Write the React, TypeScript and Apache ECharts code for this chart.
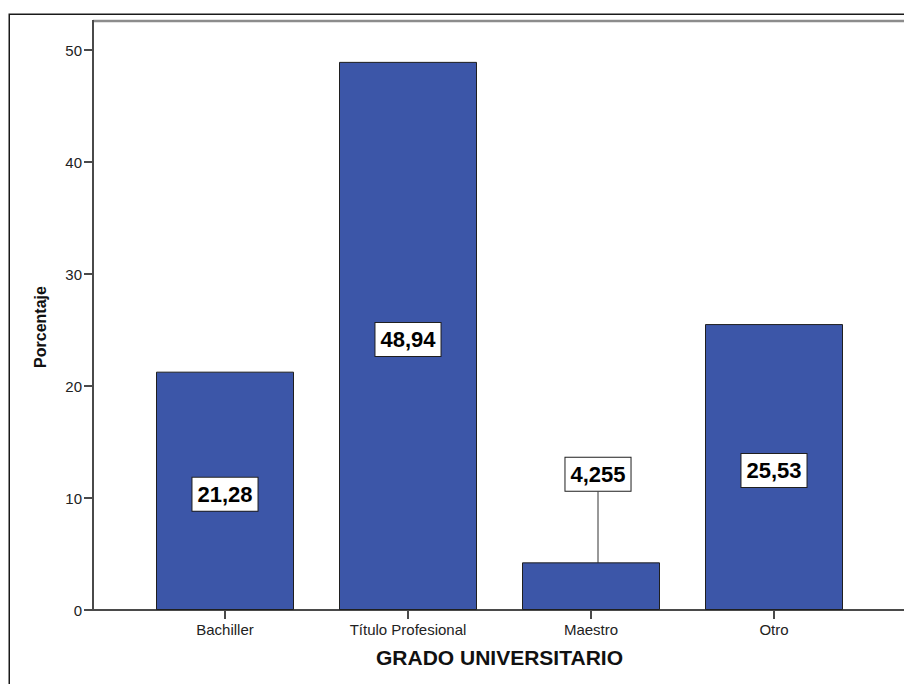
import React, { useEffect, useRef } from "react";
import * as echarts from "echarts";

// Porcentaje por grado universitario
const categories = ["Bachiller", "Título Profesional", "Maestro", "Otro"];
const percentages = [21.28, 48.94, 4.255, 25.53];
const valueLabels = ["21,28", "48,94", "4,255", "25,53"];

const FONT = "'Liberation Sans', Arial, Helvetica, sans-serif";
const BAR_COLOR = "#3C56A8";
const AXIS_COLOR = "#4a4a4a";

// value axis spans 0..50; the frame continues above it to the top line
const PLOT_TOP = 21;
const AXIS_TOP = 50;
const AXIS_BOTTOM = 610;

export default function App() {
  const ref = useRef<HTMLDivElement>(null);

  useEffect(() => {
    if (!ref.current) return;
    const chart = echarts.init(ref.current, null, { renderer: "svg" });

    const option = {
      animation: false,
      backgroundColor: "#ffffff",
      textStyle: { fontFamily: FONT },
      grid: [
        {
          left: 93,
          top: AXIS_TOP,
          width: 860,
          height: AXIS_BOTTOM - AXIS_TOP,
        },
        {
          left: 133.5,
          top: AXIS_TOP,
          width: 732,
          height: AXIS_BOTTOM - AXIS_TOP,
        },
      ],
      xAxis: [
        {
          gridIndex: 0,
          type: "value",
          min: 0,
          max: 1,
          axisLine: { show: true, lineStyle: { color: AXIS_COLOR, width: 2 } },
          axisTick: { show: false },
          axisLabel: { show: false },
          splitLine: { show: false },
        },
        {
          gridIndex: 1,
          type: "category",
          data: categories,
          boundaryGap: true,
          axisLine: { show: false },
          axisTick: {
            show: true,
            alignWithLabel: true,
            length: 9,
            lineStyle: { color: AXIS_COLOR, width: 2 },
          },
          axisLabel: {
            margin: 12,
            fontSize: 15,
            color: "#222",
            fontFamily: FONT,
          },
          name: "GRADO UNIVERSITARIO",
          nameLocation: "middle",
          nameGap: 37,
          nameTextStyle: {
            fontSize: 21,
            fontWeight: "bold",
            color: "#111",
            fontFamily: FONT,
          },
        },
      ],
      yAxis: [
        {
          gridIndex: 0,
          type: "value",
          min: 0,
          max: 50,
          interval: 10,
          axisLine: { show: true, lineStyle: { color: AXIS_COLOR, width: 2 } },
          axisTick: {
            show: true,
            length: 9,
            lineStyle: { color: AXIS_COLOR, width: 2 },
          },
          axisLabel: {
            margin: 11,
            fontSize: 15,
            color: "#222",
            fontFamily: FONT,
          },
          splitLine: { show: false },
        },
        {
          gridIndex: 1,
          type: "value",
          min: 0,
          max: 50,
          show: false,
          splitLine: { show: false },
        },
      ],
      series: [
        {
          type: "bar",
          xAxisIndex: 1,
          yAxisIndex: 1,
          barWidth: 138,
          itemStyle: {
            color: BAR_COLOR,
            borderColor: "#1f1f1f",
            borderWidth: 1,
          },
          label: {
            show: true,
            position: "inside",
            formatter: (p: any) => valueLabels[p.dataIndex],
            fontSize: 22,
            fontWeight: "bold",
            color: "#000",
            fontFamily: FONT,
            backgroundColor: "#ffffff",
            borderColor: "#1f1f1f",
            borderWidth: 1,
            padding: [6, 5, 5, 5],
          },
          labelLayout: (params: any) =>
            params.dataIndex === 2 ? { dx: 7, dy: -112 } : { dy: 3.5 },
          labelLine: {
            show: false,
            lineStyle: { color: "#333", width: 1 },
          },
          data: percentages.map((v, i) =>
            i === 2
              ? { value: v, labelLine: { show: true, lineStyle: { color: "#333", width: 1 } } }
              : { value: v }
          ),
        },
      ],
      graphic: [
        {
          // outer page frame
          type: "rect",
          silent: true,
          shape: { x: 9.25, y: 14.25, width: 1200, height: 1200 },
          style: { fill: "none", stroke: "#1a1a1a", lineWidth: 1.5 },
        },
        {
          // plot frame top edge
          type: "line",
          silent: true,
          shape: { x1: 93, y1: PLOT_TOP, x2: 910, y2: PLOT_TOP },
          style: { stroke: "#8c8c8c", lineWidth: 2.5 },
        },
        {
          // value axis continues up to the frame
          type: "line",
          silent: true,
          shape: { x1: 93, y1: PLOT_TOP - 1, x2: 93, y2: AXIS_TOP + 1 },
          style: { stroke: AXIS_COLOR, lineWidth: 2 },
        },
        {
          type: "text",
          x: 40,
          y: 327,
          rotation: Math.PI / 2,
          style: {
            text: "Porcentaje",
            fontSize: 16,
            fontWeight: "bold",
            fontFamily: FONT,
            fill: "#111",
            textAlign: "center",
            textVerticalAlign: "middle",
          },
        },
      ],
    };

    chart.setOption(option as any);
    return () => chart.dispose();
  }, []);

  return (
    <div
      ref={ref}
      style={{ position: "absolute", left: 0, top: 0, width: 904, height: 684 }}
    />
  );
}
